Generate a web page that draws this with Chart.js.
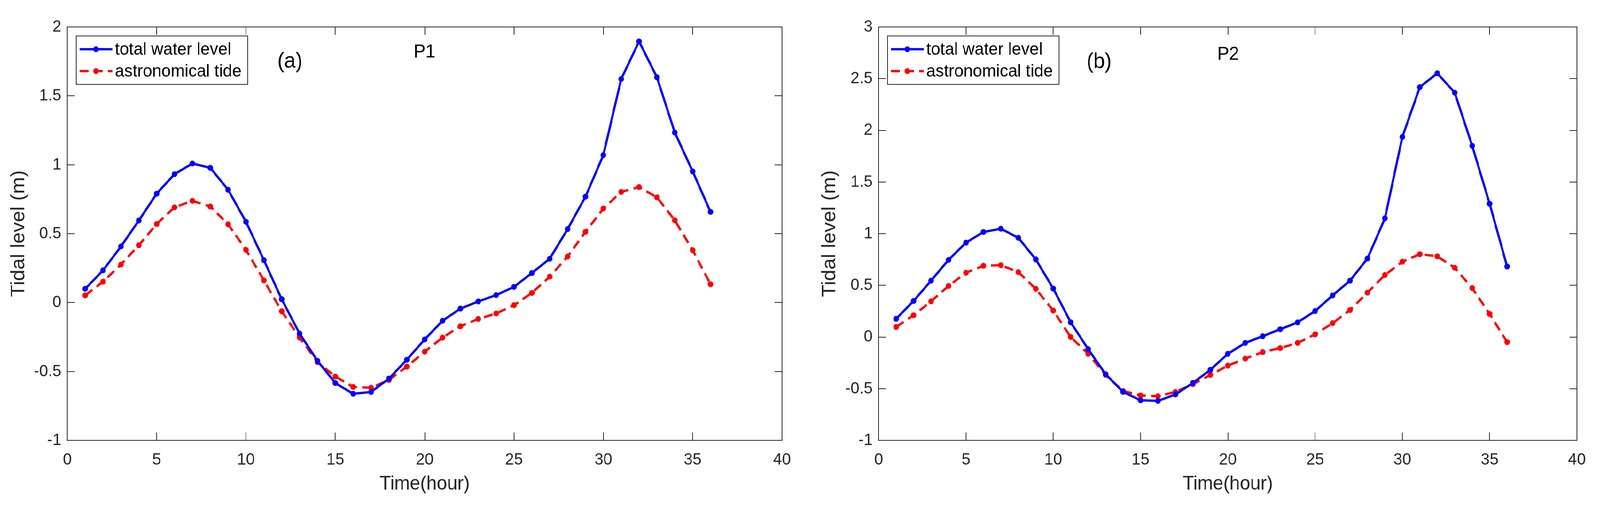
<!DOCTYPE html>
<html>
  <head>
    <title>Tidal level P1 / P2</title>
    <script src="https://cdn.jsdelivr.net/npm/chart.js"></script>
    <style>
      html, body {
        margin: 0;
        padding: 0;
        width: 100%;
        height: 100%;
        overflow: hidden;
        background: #ffffff;
      }
      #stage {
        position: absolute;
        left: 0;
        top: 0;
        width: 4301px;
        height: 1295px;
        transform-origin: 0 0;
      }
      canvas {
        position: absolute;
        top: 0;
      }
      #chartP1 { left: 0; }
      #chartP2 { left: 2150px; }
    </style>
  </head>
  <body>
    <div id="stage">
      <canvas id="chartP1" width="2150" height="1295"></canvas>
      <canvas id="chartP2" width="2151" height="1295"></canvas>
    </div>
    <script>
      // time axis (hour)
      const hours = [1, 2, 3, 4, 5, 6, 7, 8, 9, 10, 11, 12, 13, 14, 15, 16, 17, 18,
        19, 20, 21, 22, 23, 24, 25, 26, 27, 28, 29, 30, 31, 32, 33, 34, 35, 36];

      // P1
      const p1Total = [0.10, 0.234, 0.407, 0.595, 0.79, 0.932, 1.009, 0.978, 0.818, 0.586,
        0.308, 0.024, -0.225, -0.423, -0.584, -0.662, -0.649, -0.552, -0.415, -0.268,
        -0.132, -0.044, 0.008, 0.054, 0.114, 0.214, 0.318, 0.533, 0.768, 1.070,
        1.622, 1.895, 1.635, 1.234, 0.952, 0.658];
      const p1Tide = [0.052, 0.152, 0.276, 0.416, 0.57, 0.691, 0.738, 0.697, 0.568, 0.382,
        0.161, -0.063, -0.254, -0.432, -0.537, -0.612, -0.618, -0.562, -0.465, -0.357,
        -0.254, -0.172, -0.119, -0.079, -0.019, 0.070, 0.188, 0.334, 0.513, 0.682,
        0.803, 0.838, 0.764, 0.597, 0.38, 0.133];

      // P2
      const p2Total = [0.176, 0.349, 0.545, 0.746, 0.913, 1.016, 1.048, 0.960, 0.751, 0.469,
        0.142, -0.117, -0.360, -0.531, -0.612, -0.618, -0.556, -0.444, -0.318, -0.163,
        -0.057, 0.008, 0.075, 0.142, 0.251, 0.402, 0.545, 0.759, 1.148, 1.936,
        2.418, 2.552, 2.364, 1.850, 1.289, 0.682];
      const p2Tide = [0.097, 0.211, 0.345, 0.494, 0.622, 0.689, 0.695, 0.628, 0.466, 0.256,
        0.0, -0.163, -0.367, -0.523, -0.565, -0.573, -0.531, -0.456, -0.367, -0.277,
        -0.209, -0.146, -0.107, -0.057, 0.025, 0.134, 0.261, 0.429, 0.600, 0.729,
        0.801, 0.781, 0.670, 0.474, 0.223, -0.049];

      const seriesNames = ["total water level", "astronomical tide"];
      const xTicks = [0, 5, 10, 15, 20, 25, 30, 35, 40];
      const p1YTicks = [-1, -0.5, 0, 0.5, 1, 1.5, 2];
      const p2YTicks = [-1, -0.5, 0, 0.5, 1, 1.5, 2, 2.5, 3];

      const FONT = "'Liberation Sans', Arial, Helvetica, sans-serif";
      const AXIS = "#262626";
      const TICK_LEN = 20;

      // the figure is laid out at 4301x1295; squeeze it into the real window
      document.getElementById("stage").style.transform =
        "scale(" + window.innerWidth / 4301 + "," + window.innerHeight / 1295 + ")";

      // box, inside ticks, legend and panel notes (MATLAB look)
      const matlabFrame = {
        id: "matlabFrame",
        afterDraw(chart, args, opts) {
          const { ctx, chartArea: a } = chart;
          const xs = chart.scales.x;
          const ys = chart.scales.y;
          ctx.save();

          ctx.strokeStyle = AXIS;
          ctx.lineWidth = 2;
          ctx.strokeRect(a.left, a.top, a.right - a.left, a.bottom - a.top);
          ctx.beginPath();
          xs.ticks.forEach((t) => {
            const px = Math.round(xs.getPixelForValue(t.value));
            ctx.moveTo(px, a.bottom);
            ctx.lineTo(px, a.bottom - TICK_LEN);
            ctx.moveTo(px, a.top);
            ctx.lineTo(px, a.top + TICK_LEN);
          });
          ys.ticks.forEach((t) => {
            const py = Math.round(ys.getPixelForValue(t.value));
            ctx.moveTo(a.left, py);
            ctx.lineTo(a.left + TICK_LEN, py);
            ctx.moveTo(a.right, py);
            ctx.lineTo(a.right - TICK_LEN, py);
          });
          ctx.stroke();

          // panel notes, placed in data units
          ctx.fillStyle = "#000";
          ctx.textBaseline = "alphabetic";
          ctx.textAlign = "left";
          opts.notes.forEach((n) => {
            ctx.font = n.size + "px " + FONT;
            ctx.fillText(n.text, xs.getPixelForValue(n.x), ys.getPixelForValue(n.y));
          });

          // legend box (upper left, inside the axes)
          const lx = a.left + 24;
          const ly = 92;
          ctx.fillStyle = "#fff";
          ctx.fillRect(lx, ly, 461, 124);
          ctx.strokeStyle = AXIS;
          ctx.lineWidth = 2;
          ctx.strokeRect(lx, ly, 461, 124);
          chart.data.datasets.forEach((ds, i) => {
            const cy = ly + 34 + i * 56;
            ctx.strokeStyle = ds.borderColor;
            ctx.lineWidth = ds.borderWidth;
            ctx.setLineDash(ds.borderDash || []);
            ctx.beginPath();
            ctx.moveTo(lx + 9, cy);
            ctx.lineTo(lx + 97, cy);
            ctx.stroke();
            ctx.setLineDash([]);
            ctx.fillStyle = ds.borderColor;
            ctx.beginPath();
            ctx.arc(lx + 53, cy, ds.pointRadius, 0, Math.PI * 2);
            ctx.fill();
            ctx.fillStyle = "#000";
            ctx.font = "45px " + FONT;
            ctx.textBaseline = "middle";
            ctx.fillText(ds.label, lx + 104, cy + 2);
          });
          ctx.restore();
        },
      };

      function makeSeries(values, color, dash) {
        return {
          label: dash ? seriesNames[1] : seriesNames[0],
          data: hours.map((h, i) => ({ x: h, y: values[i] })),
          borderColor: color,
          backgroundColor: color,
          borderWidth: 6,
          borderDash: dash || [],
          pointRadius: 7.5,
          pointBorderWidth: 0,
          pointBackgroundColor: color,
          tension: 0,
          fill: false,
        };
      }

      function renderPanel(id, total, tide, yTicks, cfg) {
        const ctx = document.getElementById(id).getContext("2d");
        new Chart(ctx, {
          type: "line",
          data: {
            datasets: [
              makeSeries(total, "#0000ff"),
              makeSeries(tide, "#ff0000", [24, 14]),
            ],
          },
          options: {
            responsive: false,
            animation: false,
            events: [],
            layout: {
              padding: { top: 69, right: cfg.padRight, left: 0, bottom: 0 },
            },
            scales: {
              x: {
                type: "linear",
                min: xTicks[0],
                max: xTicks[xTicks.length - 1],
                afterFit: (s) => { s.height = 168; },
                afterBuildTicks: (s) => { s.ticks = xTicks.map((v) => ({ value: v })); },
                grid: { display: false, drawTicks: false },
                border: { display: false },
                ticks: {
                  padding: 24,
                  color: AXIS,
                  font: { family: FONT, size: 43 },
                  maxRotation: 0,
                  callback: (v) => String(v),
                },
                title: {
                  display: true,
                  text: "Time(hour)",
                  color: AXIS,
                  font: { family: FONT, size: 50 },
                  padding: { top: 0, bottom: 26 },
                },
              },
              y: {
                type: "linear",
                min: yTicks[0],
                max: yTicks[yTicks.length - 1],
                afterFit: (s) => { s.width = cfg.yWidth; },
                afterBuildTicks: (s) => { s.ticks = yTicks.map((v) => ({ value: v })); },
                grid: { display: false, drawTicks: false },
                border: { display: false },
                ticks: {
                  padding: 16,
                  color: AXIS,
                  font: { family: FONT, size: 43 },
                  callback: (v) => String(v),
                },
                title: {
                  display: true,
                  text: "Tidal level (m)",
                  color: AXIS,
                  font: { family: FONT, size: 52 },
                  padding: { top: cfg.yTitlePad, bottom: 0 },
                },
              },
            },
            plugins: {
              legend: { display: false },
              tooltip: { enabled: false },
              matlabFrame: { notes: cfg.notes },
            },
          },
          plugins: [matlabFrame],
        });
      }

      renderPanel("chartP1", p1Total, p1Tide, p1YTicks, {
        padRight: 27,
        yWidth: 181,
        yTitlePad: 19,
        notes: [
          { text: "(a)", x: 11.76, y: 1.705, size: 55 },
          { text: "P1", x: 19.38, y: 1.778, size: 48 },
        ],
      });
      renderPanel("chartP2", p2Total, p2Tide, p2YTicks, {
        padRight: 62,
        yWidth: 212,
        yTitlePad: 49,
        notes: [
          { text: "(b)", x: 11.91, y: 2.603, size: 55 },
          { text: "P2", x: 19.39, y: 2.681, size: 48 },
        ],
      });
    </script>
  </body>
</html>
